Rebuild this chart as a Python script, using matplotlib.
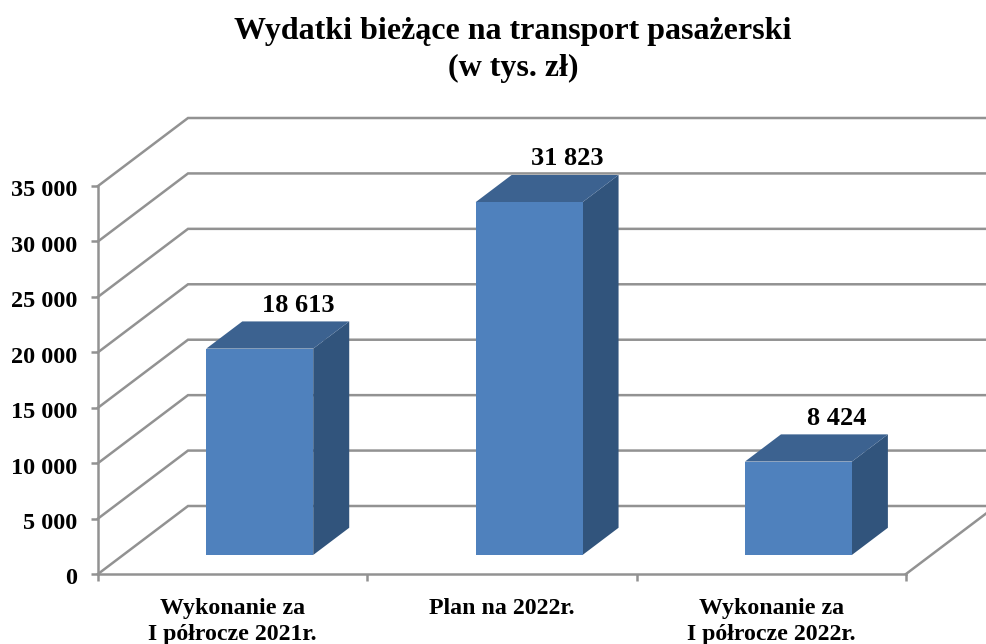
import matplotlib
matplotlib.use("Agg")
import matplotlib.pyplot as plt
from matplotlib.patches import Polygon
from matplotlib.transforms import ScaledTranslation

plt.rcParams["font.family"] = ["Liberation Serif", "DejaVu Serif"]

categories = ["Wykonanie za\nI półrocze 2021r.", "Plan na 2022r.", "Wykonanie za\nI półrocze 2022r."]
values = [18613, 31823, 8424]
value_labels = ["18 613", "31 823", "8 424"]
y_ticks = [0, 5000, 10000, 15000, 20000, 25000, 30000, 35000]
y_tick_labels = ["0", "5 000", "10 000", "15 000", "20 000", "25 000", "30 000", "35 000"]

GRID = "#929292"
FRONT = "#4f81bd"
TOP = "#3c6290"
SIDE = "#31547c"

# how far the back wall sits from the front, in data units
DEPTH_X = 90 / 269.3
DEPTH_Y = 68 / 388 * 35000
BAR_W = 0.397
D0, D1 = 0.28, 0.68


def shift(x, y, d):
    return x + d * DEPTH_X, y + d * DEPTH_Y


fig = plt.figure(figsize=(9.87, 6.44), dpi=100)
ax = fig.add_axes([98 / 987, (644 - 574) / 644, 808 / 987, 388 / 644])
ax.set_xlim(0, 3)
ax.set_ylim(0, 35000)
ax.patch.set_visible(False)
for s in ["top", "right"]:
    ax.spines[s].set_visible(False)
for s in ["left", "bottom"]:
    ax.spines[s].set_color(GRID)
    ax.spines[s].set_linewidth(1.8)

# walls and floor
for t in y_ticks:
    bx, by = shift(0, t, 1)
    ax.plot([0, bx, 3.4], [t, by, by], color=GRID, lw=1.8, clip_on=False, zorder=1,
            solid_joinstyle="miter")
ex, ey = shift(3, 0, 1)
ax.plot([3, ex], [0, ey], color=GRID, lw=1.8, clip_on=False, zorder=1)

# bars
for i, v in enumerate(values):
    x0 = i + 0.507 - BAR_W / 2
    x1 = i + 0.507 + BAR_W / 2
    front = [shift(x0, 0, D0), shift(x1, 0, D0), shift(x1, v, D0), shift(x0, v, D0)]
    top = [shift(x0, v, D0), shift(x1, v, D0), shift(x1, v, D1), shift(x0, v, D1)]
    side = [shift(x1, 0, D0), shift(x1, 0, D1), shift(x1, v, D1), shift(x1, v, D0)]
    ax.add_patch(Polygon(side, closed=True, fc=SIDE, ec="none", zorder=3, clip_on=False))
    ax.add_patch(Polygon(top, closed=True, fc=TOP, ec="none", zorder=3, clip_on=False))
    ax.add_patch(Polygon(front, closed=True, fc=FRONT, ec="none", zorder=4, clip_on=False))
    lx, ly = shift(i + 0.507, v, D1)
    ax.annotate(value_labels[i], (lx, ly), xytext=(1.5, 3.5), textcoords="offset points",
                ha="center", va="bottom", fontsize=19, fontweight="bold", color="black",
                annotation_clip=False)

ax.set_yticks(y_ticks)
ax.set_yticklabels(y_tick_labels, fontsize=17.5, fontweight="bold", color="black")
ax.tick_params(axis="y", length=5, width=1.8, color=GRID, pad=10)
# tick labels sit a little under their ticks
for lab in ax.get_yticklabels():
    lab.set_transform(lab.get_transform() + ScaledTranslation(0, -2.5 / 100, fig.dpi_scale_trans))
ax.set_xticks([0, 1, 2, 3])
ax.set_xticklabels([])
ax.tick_params(axis="x", length=5, width=1.8, color=GRID)

for i, c in enumerate(categories):
    ax.annotate(c, (i + 0.5, 0), xytext=(0, -17), textcoords="offset points",
                ha="center", va="top", fontsize=17.2, fontweight="bold", linespacing=1.33,
                annotation_clip=False)

fig.text(513 / 987, 1 - 17 / 644, "Wydatki bieżące na transport pasażerski\n(w tys. zł)",
         ha="center", va="top", fontsize=23, fontweight="bold", linespacing=1.35)

fig.savefig("out.png", dpi=100)
